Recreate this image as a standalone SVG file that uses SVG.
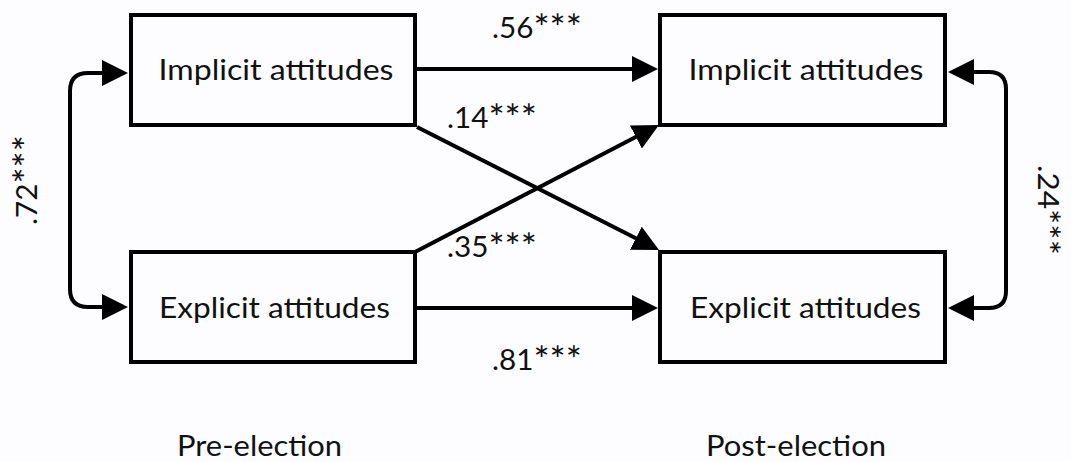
<svg xmlns="http://www.w3.org/2000/svg" width="1071" height="462" viewBox="0 0 1071 462">
  <style>
    .box { fill: #fdfdff; stroke: #000; stroke-width: 4; }
    .t { font-family: Lato, "Open Sans", "Liberation Sans", sans-serif; font-size: 28px; fill: #111; text-anchor: middle; }
    .s { font-size: 36px; }
    .s2 { font-size: 32px; }
    .c { fill: none; stroke: #000; stroke-width: 4; }
    .a { marker-end: url(#ah); }
    .d { marker-start: url(#ah); marker-end: url(#ah); }
  </style>
  <defs>
    <marker id="ah" markerUnits="userSpaceOnUse" markerWidth="26" markerHeight="26" viewBox="0 0 26 26" refX="16" refY="13" orient="auto-start-reverse">
      <path d="M0,0 L26,13 L0,26 Z" fill="#000"/>
    </marker>
  </defs>
  <rect width="1071" height="462" fill="#fdfdff"/>

  <g id="connectors">
    <line class="c a" x1="417" y1="69" x2="648" y2="69"/>
    <line class="c a" x1="415" y1="308" x2="648" y2="308"/>
    <line class="c a" x1="417" y1="127" x2="650.1" y2="245.5"/>
    <line class="c a" x1="415" y1="252" x2="650.1" y2="129.6"/>
    <path class="c d" d="M118,73 L88,73 Q70,73 70,91 L70,289 Q70,307 88,307 L118,307"/>
    <path class="c d" d="M958,72 L989,72 Q1006,72 1006,89 L1006,291 Q1006,308 989,308 L958,308"/>
  </g>

  <g id="pre-implicit">
    <rect class="box" x="131" y="15" width="284" height="110"/>
    <text class="t" x="276" y="80" textLength="235" lengthAdjust="spacingAndGlyphs">Implicit attitudes</text>
  </g>
  <g id="pre-explicit">
    <rect class="box" x="131" y="252" width="284" height="110"/>
    <text class="t" x="274.5" y="318" textLength="231" lengthAdjust="spacingAndGlyphs">Explicit attitudes</text>
  </g>
  <g id="post-implicit">
    <rect class="box" x="660" y="15" width="285" height="110"/>
    <text class="t" x="806" y="80" textLength="235" lengthAdjust="spacingAndGlyphs">Implicit attitudes</text>
  </g>
  <g id="post-explicit">
    <rect class="box" x="660" y="252" width="285" height="110"/>
    <text class="t" x="805.5" y="318" textLength="231" lengthAdjust="spacingAndGlyphs">Explicit attitudes</text>
  </g>

  <g id="labels">
    <text class="t" x="537" y="38" textLength="90" lengthAdjust="spacingAndGlyphs">.56<tspan class="s" dy="3">***</tspan></text>
    <text class="t" x="492" y="128" textLength="90" lengthAdjust="spacingAndGlyphs">.14<tspan class="s" dy="3">***</tspan></text>
    <text class="t" x="492" y="257" textLength="90" lengthAdjust="spacingAndGlyphs">.35<tspan class="s" dy="3">***</tspan></text>
    <text class="t" x="537" y="370" textLength="90" lengthAdjust="spacingAndGlyphs">.81<tspan class="s" dy="3">***</tspan></text>
    <text class="t" transform="translate(37,180) rotate(-90)" x="0" y="0" textLength="90" lengthAdjust="spacingAndGlyphs">.72<tspan class="s" dy="3">***</tspan></text>
    <text class="t" transform="translate(1038,210) rotate(90)" x="0" y="0" textLength="90" lengthAdjust="spacingAndGlyphs">.24<tspan class="s2" dy="2">***</tspan></text>
    <text class="t" x="259.5" y="456" textLength="165" lengthAdjust="spacingAndGlyphs">Pre-election</text>
    <text class="t" x="796" y="456" textLength="180" lengthAdjust="spacingAndGlyphs">Post-election</text>
  </g>
</svg>
